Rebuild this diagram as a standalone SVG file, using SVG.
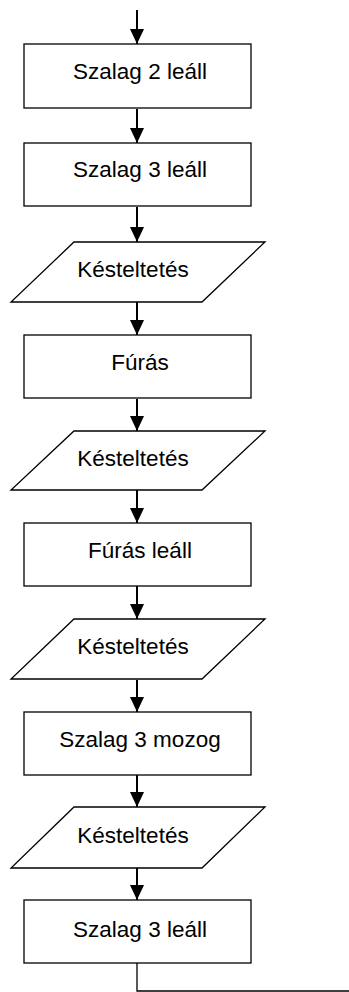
<svg xmlns="http://www.w3.org/2000/svg" width="349" height="992" viewBox="0 0 349 992">
  <defs>
    <style>
      .box { fill: #ffffff; stroke: #000000; stroke-width: 1.3; }
      .lbl { font-family: "Liberation Sans", Arial, sans-serif; font-size: 22.5px; fill: #000000; text-anchor: middle; }
      .arr { stroke: #000000; stroke-width: 2; fill: none; marker-end: url(#ah); }
      .ln { stroke: #000000; stroke-width: 1.3; fill: none; }
    </style>
    <marker id="ah" viewBox="0 0 15 14" refX="15" refY="7" markerUnits="userSpaceOnUse" markerWidth="15" markerHeight="14" orient="auto">
      <path d="M0,0 L15,7 L0,14 z" fill="#000000"/>
    </marker>
  </defs>
  <rect width="349" height="992" fill="#ffffff"/>

  <g id="connectors">
    <line class="arr" x1="137" y1="10" x2="137" y2="44"/>
    <line class="arr" x1="137" y1="109" x2="137" y2="143"/>
    <line class="arr" x1="137" y1="207" x2="137" y2="242"/>
    <line class="arr" x1="137" y1="302" x2="137" y2="335"/>
    <line class="arr" x1="137" y1="399" x2="137" y2="431"/>
    <line class="arr" x1="137" y1="490" x2="137" y2="523"/>
    <line class="arr" x1="137" y1="586" x2="137" y2="619"/>
    <line class="arr" x1="137" y1="680" x2="137" y2="712"/>
    <line class="arr" x1="137" y1="775" x2="137" y2="807"/>
    <line class="arr" x1="137" y1="868" x2="137" y2="900"/>
    <polyline class="ln" points="137,963 137,991 349,991"/>
  </g>

  <g id="n1">
    <rect class="box" x="24" y="44" width="227" height="64"/>
    <text class="lbl" x="140" y="79">Szalag 2 leáll</text>
  </g>
  <g id="n2">
    <rect class="box" x="24" y="143" width="227" height="63"/>
    <text class="lbl" x="140" y="177">Szalag 3 leáll</text>
  </g>
  <g id="n3">
    <polygon class="box" points="74,242 265,242 202,302 11,302"/>
    <text class="lbl" x="133" y="277">Késteltetés</text>
  </g>
  <g id="n4">
    <rect class="box" x="24" y="335" width="227" height="63"/>
    <text class="lbl" x="140" y="370">Fúrás</text>
  </g>
  <g id="n5">
    <polygon class="box" points="74,431 265,431 202,490 11,490"/>
    <text class="lbl" x="133" y="466">Késteltetés</text>
  </g>
  <g id="n6">
    <rect class="box" x="24" y="523" width="227" height="63"/>
    <text class="lbl" x="140" y="558">Fúrás leáll</text>
  </g>
  <g id="n7">
    <polygon class="box" points="74,619 265,619 202,679 11,679"/>
    <text class="lbl" x="133" y="654">Késteltetés</text>
  </g>
  <g id="n8">
    <rect class="box" x="24" y="712" width="227" height="63"/>
    <text class="lbl" x="140" y="747">Szalag 3 mozog</text>
  </g>
  <g id="n9">
    <polygon class="box" points="74,807 265,807 202,868 11,868"/>
    <text class="lbl" x="133" y="843">Késteltetés</text>
  </g>
  <g id="n10">
    <rect class="box" x="24" y="900" width="227" height="63"/>
    <text class="lbl" x="140" y="937">Szalag 3 leáll</text>
  </g>
</svg>
